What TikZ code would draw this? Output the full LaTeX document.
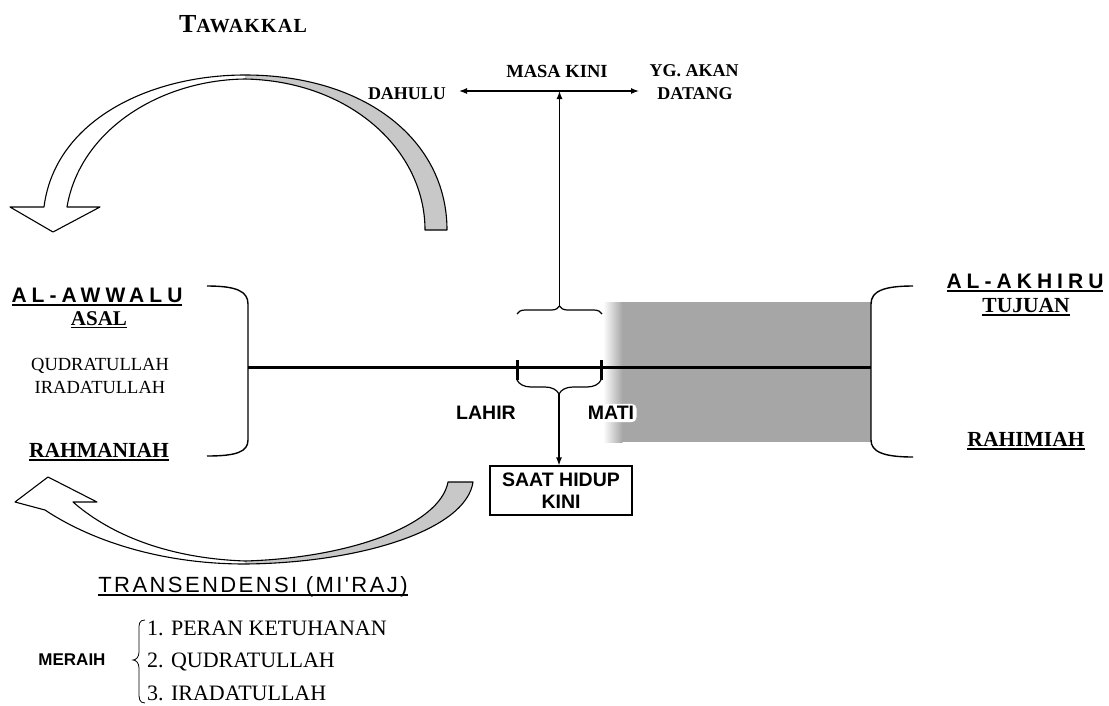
\documentclass[tikz,border=0pt]{standalone}
\usepackage{fontspec}
\setmainfont{Liberation Serif}
\setsansfont{Liberation Sans}
\newfontfamily\spacedsans[LetterSpace=24]{Liberation Sans}
\newfontfamily\wideSans[LetterSpace=11]{Liberation Sans}
\newfontfamily\spacedserif[LetterSpace=6]{Liberation Serif}
\usetikzlibrary{arrows.meta,decorations.pathreplacing}
\newcommand\myul[1]{\setbox0\hbox{#1}\rlap{\rule[-3pt]{\wd0}{1.3pt}}\box0}
\newcommand\fs[1]{\fontsize{#1}{#1}\selectfont}
\definecolor{rectgray}{HTML}{A6A6A6}
\definecolor{ribbongray}{HTML}{C8C8C8}
\tikzset{
  txt/.style={inner sep=0pt},
  bracket/.style={line width=1.4pt},
  ribbon/.style={draw=black,line width=1.1pt,line join=round},
  tl/.style={line width=1.3pt,-{Latex[length=8pt,width=6pt]}},
  tlboth/.style={line width=1.3pt,{Latex[length=8pt,width=6pt]}-{Latex[length=8pt,width=6pt]}},
  brc/.style={line width=1.2pt,decorate,decoration={brace,amplitude=8pt}},
}
\begin{document}
\begin{tikzpicture}[x=1pt,y=-1pt]
\useasboundingbox (0,0) rectangle (1109,705);
% gray region
\fill[rectgray] (622,302) rectangle (871,442);
\shade[left color=white,right color=rectgray] (603,302) rectangle (622.5,442);
% main line
\coordinate (lineL) at (248,367);
\coordinate (lineR) at (871,367);
\draw[line width=3pt] (lineL) -- (lineR);
% left bracket
\draw[bracket] (207,286) .. controls (236,286) and (248,291) .. (248,304) -- (248,440)
  .. controls (248,452) and (236,456) .. (207,456);
% right bracket
\draw[bracket] (913,286) .. controls (884,286) and (871,291) .. (871,304) -- (871,440)
  .. controls (871,452) and (884,457) .. (913,457);
% ticks
\draw[line width=3pt] (517,360) -- (517,380);
\draw[line width=3pt] (601,360) -- (601,380);
% lower brace
\draw[brc,decoration={brace,amplitude=14pt,mirror}] (517,380) -- (601,380);
\coordinate (lowTip) at (559,394);
% top brace
\draw[brc] (517,314) -- (602,314);
\coordinate (topTip) at (559.5,306);
% timeline
\coordinate (tlL) at (459,91);
\coordinate (tlR) at (639,91);
\coordinate (tlC) at (559.5,91);
\draw[tlboth] (tlL) -- (tlR);
\draw[tl] (topTip) -- (tlC);
% texts top
\node[txt,font=\bfseries\fs{18}] (dahulu) at (407,94) {DAHULU};
\node[txt,font=\bfseries\fs{18.5}] (masakini) at (557,71) {MASA KINI};
\node[txt,font=\bfseries\fs{18}] (ygakan) at (694,71) {YG. AKAN};
\node[txt,font=\bfseries\fs{18}] (datang) at (695,94) {DATANG};
\node[txt] (tawakkal) at (243,24) {\spacedserif\bfseries\fs{26}T\fs{20}AWAKKAL};
% left texts
\node[txt,font=\spacedsans\bfseries\fs{21}] (awwalu) at (97,297) {\myul{AL-AWWALU}};
\node[txt,font=\bfseries\fs{21}] (asal) at (99,320) {\myul{ASAL}};
\node[txt,font=\fs{18.5}] (qudrat) at (100,366) {QUDRATULLAH};
\node[txt,font=\fs{18.5}] (iradat) at (100,387) {IRADATULLAH};
\node[txt,font=\bfseries\fs{21.5}] (rahmaniah) at (99,452) {\myul{RAHMANIAH}};
% right texts
\node[txt,font=\spacedsans\bfseries\fs{21}] (akhiru) at (1025,283) {\myul{AL-AKHIRU}};
\node[txt,font=\bfseries\fs{21.5}] (tujuan) at (1026,307) {\myul{TUJUAN}};
\node[txt,font=\bfseries\fs{21.5}] (rahimiah) at (1026,441) {\myul{RAHIMIAH}};
% lahir mati
\node[txt,font=\sffamily\bfseries\fs{19.5}] (lahir) at (486,413) {LAHIR};
\node[font=\sffamily\bfseries\fs{19.5},fill=white,rounded corners=5pt,inner sep=2.5pt] (mati) at (611,413) {MATI};
% box
\node[draw,line width=1.1pt,font=\sffamily\bfseries\fs{19.5},align=center,minimum width=142pt,minimum height=49pt,inner sep=0pt,
  execute at begin node={\baselineskip=22pt}] (saat) at (561,490.5) {SAAT HIDUP\\KINI};
\draw[tl] (lowTip) -- (lowTip |- saat.north);
% top ribbon arrow
\fill[white] (67,207) -- (100,207) -- (53,232) -- (10,207) -- (44,207)
  .. controls (55,120) and (150,75) .. (245,75)
  -- (245,79) .. controls (160,80) and (80,130) .. (67,207) -- cycle;
\fill[ribbongray] (245,75) .. controls (365,75) and (447,140) .. (447,230)
  -- (425,230) .. controls (425,150) and (350,81) .. (245,79) -- cycle;
\draw[ribbon] (67,207) -- (100,207) -- (53,232) -- (10,207) -- (44,207)
  .. controls (55,120) and (150,75) .. (245,75)
  .. controls (365,75) and (447,140) .. (447,230)
  -- (425,230) .. controls (425,150) and (350,81) .. (245,79)
  .. controls (160,80) and (80,130) .. (67,207) -- cycle;
% bottom ribbon arrow
\fill[white] (45,510) .. controls (90,540) and (160,564) .. (245,564)
  -- (245,561) .. controls (160,558) and (105,530) .. (73,502)
  -- (97,502) -- (48,477) -- (15,502) -- cycle;
\fill[ribbongray] (245,564) .. controls (360,563) and (466,530) .. (473,482)
  -- (448,482) .. controls (440,525) and (350,558) .. (245,561) -- cycle;
\draw[ribbon] (45,510) .. controls (90,540) and (160,564) .. (245,564)
  .. controls (360,563) and (466,530) .. (473,482)
  -- (448,482) .. controls (440,525) and (350,558) .. (245,561)
  .. controls (160,558) and (105,530) .. (73,502)
  -- (97,502) -- (48,477) -- (15,502) -- cycle;
% bottom texts
\node[txt,font=\wideSans\fs{22}] (trans) at (253,587) {\myul{TRANSENDENSI (MI'RAJ)}};
\node[txt,font=\sffamily\bfseries\fs{17}] (meraih) at (72,660) {MERAIH};
\draw[line width=0.8pt] (145,620) .. controls (139,620) and (139,624) .. (139,630) -- (139,652)
  .. controls (139,657) and (136,660) .. (133,660) .. controls (136,660) and (139,663) .. (139,668)
  -- (139,692) .. controls (139,698) and (139,703) .. (145,703);
\node[txt,font=\fs{22},anchor=west] (item1) at (147,628) {1. PERAN KETUHANAN};
\node[txt,font=\fs{22},anchor=west] (item2) at (147,662) {2. QUDRATULLAH};
\node[txt,font=\fs{22},anchor=west] (item3) at (147,693) {3. IRADATULLAH};
\end{tikzpicture}
\end{document}
